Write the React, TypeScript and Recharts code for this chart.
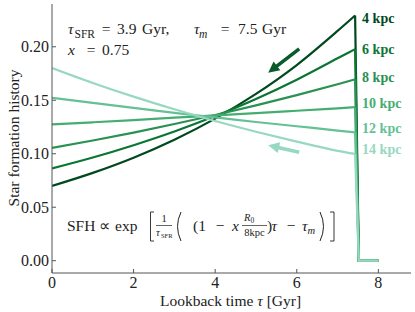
import { LineChart, Line, XAxis, YAxis, ReferenceLine } from 'recharts';

document.body.style.margin = '0';

// lookback time grid (Gyr); the SFH is cut at tau_m = 7.5 Gyr
const tau = [0, 1, 2, 3, 4, 5, 6, 7, 7.43, 7.52, 8];
const radii = ['4 kpc', '6 kpc', '8 kpc', '10 kpc', '12 kpc', '14 kpc'];
const sfh4 = [0.0699, 0.0821, 0.0963, 0.1131, 0.1328, 0.1559, 0.1829, 0.2148, 0.2292, 0, 0];
const sfh6 = [0.0863, 0.0965, 0.108, 0.1208, 0.1352, 0.1512, 0.1692, 0.1892, 0.1978, 0, 0];
const sfh8 = [0.1054, 0.1124, 0.1198, 0.1278, 0.1362, 0.1452, 0.1548, 0.165, 0.1696, 0, 0];
const sfh10 = [0.1274, 0.1294, 0.1315, 0.1337, 0.1358, 0.1379, 0.1402, 0.1425, 0.1435, 0, 0];
const sfh12 = [0.1523, 0.1475, 0.1428, 0.1382, 0.134, 0.1297, 0.1257, 0.1217, 0.12, 0, 0];
const sfh14 = [0.1801, 0.1662, 0.1534, 0.1416, 0.1306, 0.1206, 0.1113, 0.1027, 0.0998, 0, 0];
const series = [sfh4, sfh6, sfh8, sfh10, sfh12, sfh14];
const cutIndex = 8; // last point before the truncation

const xTicks = [0, 2, 4, 6, 8];
const yTicks = [0, 0.05, 0.1, 0.15, 0.2];

// arrows: [tail, tip] in data units
const arrowDark = [{ x: 6.06, y: 0.198 }, { x: 5.3, y: 0.1758 }];
const arrowLight = [{ x: 6.06, y: 0.1014 }, { x: 5.3, y: 0.1079 }];

const colors = ['#00491f', '#0b7534', '#2a9152', '#45ad72', '#63c194', '#97d8c0'];
const labelDy = [3, 0, -2, -4, -4, -5];

// smooth part (c) and the drop to zero (d) are drawn as separate lines
const data = tau.map((t, i) => {
  const row: any = { t };
  series.forEach((s, k) => {
    row['c' + k] = i <= cutIndex ? s[i] : null;
    row['d' + k] = i >= cutIndex ? s[i] : null;
  });
  return row;
});

const serif = '"Liberation Serif", "Times New Roman", serif';
const ink = '#222';
const frame = '#555';

const arrowShape = (color: string) => (p: any) => {
  const { x1, y1, x2, y2 } = p;
  const dx = x2 - x1;
  const dy = y2 - y1;
  const len = Math.hypot(dx, dy);
  const ux = dx / len;
  const uy = dy / len;
  const hl = 11;
  const hw = 5.5;
  const bx = x2 - ux * hl;
  const by = y2 - uy * hl;
  const px = -uy;
  const py = ux;
  return (
    <g>
      <line x1={x1} y1={y1} x2={bx + ux} y2={by + uy} stroke={color} strokeWidth={3.5} />
      <polygon
        points={`${x2},${y2} ${bx + px * hw},${by + py * hw} ${bx - px * hw},${by - py * hw}`}
        fill={color}
      />
    </g>
  );
};

const endLabel = (k: number) => (p: any) => {
  if (p.index !== cutIndex) return null;
  return (
    <text
      key={'lbl' + k}
      x={p.x + 7}
      y={p.y + labelDy[k]}
      dy="0.35em"
      fill={colors[k]}
      fontFamily={serif}
      fontWeight="bold"
      fontSize={14}
    >
      {radii[k]}
    </text>
  );
};

function Annotations() {
  return (
    <svg
      width={415}
      height={312}
      style={{ position: 'absolute', left: 0, top: 0, pointerEvents: 'none' }}
      fontFamily={serif}
      fill={ink}
    >
      {/* parameters */}
      <text x={68} y={34} fontSize={15.5} fontStyle="italic">τ</text>
      <text x={74.5} y={37.5} fontSize={11.5}>SFR</text>
      <text x={106} y={34} fontSize={15.5} textAnchor="middle">=</text>
      <text x={117} y={34} fontSize={15.5}>3.9</text>
      <text x={142} y={34} fontSize={15.5}>Gyr,</text>
      <text x={194} y={34} fontSize={15.5} fontStyle="italic">τ</text>
      <text x={199} y={37.5} fontSize={11.5} fontStyle="italic">m</text>
      <text x={225} y={34} fontSize={15.5} textAnchor="middle">=</text>
      <text x={238} y={34} fontSize={15.5}>7.5</text>
      <text x={262} y={34} fontSize={15.5}>Gyr</text>
      <text x={68} y={55} fontSize={15.5} fontStyle="italic">x</text>
      <text x={91} y={55} fontSize={15.5} textAnchor="middle">=</text>
      <text x={102} y={55} fontSize={15.5}>0.75</text>

      {/* formula */}
      <text x={67} y={231} fontSize={15.5}>SFH</text>
      <text x={104} y={231} fontSize={15.5} textAnchor="middle">∝</text>
      <text x={115} y={231} fontSize={15.5}>exp</text>
      <path d="M154 212 H150.5 V241 H154" stroke={ink} strokeWidth={0.9} fill="none" />
      <text x={164} y={222} fontSize={10.5} textAnchor="middle">1</text>
      <line x1={156} x2={172} y1={225.5} y2={225.5} stroke={ink} strokeWidth={0.7} />
      <text x={156} y={235.5} fontSize={10.5} fontStyle="italic">τ</text>
      <text x={161} y={237.5} fontSize={6.5}>SFR</text>
      <path d="M181 212 Q174 226.5 181 241" stroke={ink} strokeWidth={1} fill="none" />
      <text x={193} y={231} fontSize={15.5}>(1</text>
      <text x={220} y={231} fontSize={15.5} textAnchor="middle">−</text>
      <text x={232} y={231} fontSize={15.5} fontStyle="italic">x</text>
      <text x={244} y={221} fontSize={10.5} fontStyle="italic">R</text>
      <text x={250.5} y={223} fontSize={7.5}>0</text>
      <line x1={242} x2={267} y1={225.5} y2={225.5} stroke={ink} strokeWidth={0.7} />
      <text x={254.5} y={236} fontSize={10.5} textAnchor="middle">8kpc</text>
      <text x={267} y={231} fontSize={15.5}>)</text>
      <text x={271.5} y={231} fontSize={15.5} fontStyle="italic">τ</text>
      <text x={291} y={231} fontSize={15.5} textAnchor="middle">−</text>
      <text x={302} y={231} fontSize={15.5} fontStyle="italic">τ</text>
      <text x={307.5} y={234} fontSize={10.5} fontStyle="italic">m</text>
      <path d="M320 212 Q327 226.5 320 241" stroke={ink} strokeWidth={1} fill="none" />
      <path d="M330 212 H334 V241 H330" stroke={ink} strokeWidth={0.9} fill="none" />

      {/* axis titles */}
      <text x={230.5} y={306} fontSize={15.5} textAnchor="middle">
        Lookback time <tspan fontStyle="italic">τ</tspan> [Gyr]
      </text>
      <text transform="translate(18.5,138) rotate(-90)" x={0} y={0} fontSize={15.5} textAnchor="middle">
        Star formation history
      </text>
    </svg>
  );
}

export default function App() {
  const tickStyle = { fill: ink, fontSize: 16, fontFamily: serif };
  return (
    <div style={{ position: 'absolute', left: 0, top: 0, width: 415, height: 312, background: '#fff' }}>
      <LineChart width={415} height={312} data={data} margin={{ top: 4, right: 4, bottom: 0, left: 2 }}>
        <XAxis
          dataKey="t"
          type="number"
          domain={[0, 8.8]}
          ticks={xTicks}
          tick={tickStyle}
          tickSize={-4}
          tickMargin={8}
          height={39}
          axisLine={{ stroke: frame }}
          tickLine={{ stroke: frame }}
          allowDataOverflow
        />
        <XAxis
          xAxisId="top"
          orientation="top"
          dataKey="t"
          type="number"
          domain={[0, 8.8]}
          ticks={xTicks}
          tick={false}
          tickSize={-4}
          height={0}
          axisLine={{ stroke: frame }}
          tickLine={{ stroke: frame }}
        />
        <YAxis
          type="number"
          domain={[-0.0115, 0.24]}
          ticks={yTicks}
          tick={tickStyle}
          tickFormatter={(v: number) => v.toFixed(2)}
          tickSize={-4}
          tickMargin={7}
          width={50}
          axisLine={{ stroke: frame }}
          tickLine={{ stroke: frame }}
          allowDataOverflow
        />
        <YAxis
          yAxisId="right"
          orientation="right"
          type="number"
          domain={[-0.0115, 0.24]}
          ticks={yTicks}
          tick={false}
          tickSize={-4}
          width={0}
          axisLine={{ stroke: frame }}
          tickLine={{ stroke: frame }}
        />
        {series.map((_, k) => (
          <Line
            key={'d' + k}
            dataKey={'d' + k}
            type="linear"
            stroke={colors[k]}
            strokeWidth={2.2}
            dot={false}
            isAnimationActive={false}
          />
        ))}
        {series.map((_, k) => (
          <Line
            key={'c' + k}
            dataKey={'c' + k}
            type="monotone"
            stroke={colors[k]}
            strokeWidth={2.2}
            dot={false}
            isAnimationActive={false}
            label={endLabel(k)}
          />
        ))}
        <ReferenceLine
          segment={arrowDark}
          stroke={colors[0]}
          shape={arrowShape('#0a5a2a')}
          ifOverflow="visible"
        />
        <ReferenceLine
          segment={arrowLight}
          stroke={colors[5]}
          shape={arrowShape(colors[5])}
          ifOverflow="visible"
        />
      </LineChart>
      <Annotations />
    </div>
  );
}
